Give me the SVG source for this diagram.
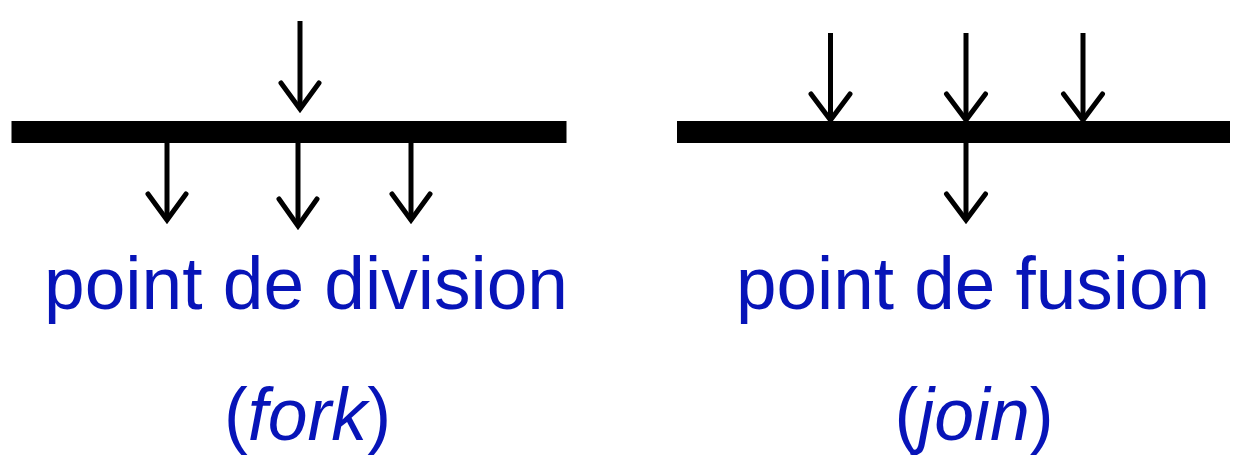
<svg xmlns="http://www.w3.org/2000/svg" width="1242" height="464" viewBox="0 0 1242 464">
<style>
.bar{fill:#000}
.shaft{stroke:#000;stroke-width:5;fill:none}
.head{stroke:#000;stroke-width:5;fill:none;stroke-linecap:round;stroke-linejoin:miter}
.lbl{font-family:"Liberation Sans",Arial,sans-serif;font-size:75px;fill:#0714B8;text-anchor:middle}
.it{font-style:italic}
</style>
<g id="fork">
<rect class="bar" x="11.5" y="121" width="555" height="22"/>
<text class="lbl" x="306" y="309" textLength="524" lengthAdjust="spacingAndGlyphs">point de division</text>
<text class="lbl" x="307.5" y="440" textLength="167" lengthAdjust="spacingAndGlyphs">(<tspan class="it">fork</tspan>)</text>
</g>
<g id="join">
<rect class="bar" x="677" y="121" width="553" height="22"/>
<text class="lbl" x="973" y="309" textLength="474" lengthAdjust="spacingAndGlyphs">point de fusion</text>
<text class="lbl" x="974" y="440" textLength="159" lengthAdjust="spacingAndGlyphs">(<tspan class="it">join</tspan>)</text>
</g>
<g id="connectors">
<path class="shaft" d="M300 21V107"/>
<path class="head" d="M281 83L300 109L319 83"/>
<path class="shaft" d="M167 143V218"/>
<path class="head" d="M148 194L167 220L186 194"/>
<path class="shaft" d="M298 143V224"/>
<path class="head" d="M279 199L298 226L317 199"/>
<path class="shaft" d="M411 143V218"/>
<path class="head" d="M392 194L411 220L430 194"/>
<path class="shaft" d="M830.5 33V118"/>
<path class="head" d="M811 94L830.5 120L850 94"/>
<path class="shaft" d="M966 33V118"/>
<path class="head" d="M946.5 94L966 120L985.5 94"/>
<path class="shaft" d="M1083 33V118"/>
<path class="head" d="M1063.5 94L1083 120L1102.5 94"/>
<path class="shaft" d="M966 143V218"/>
<path class="head" d="M946.5 194L966 220L985.5 194"/>
</g>
</svg>
